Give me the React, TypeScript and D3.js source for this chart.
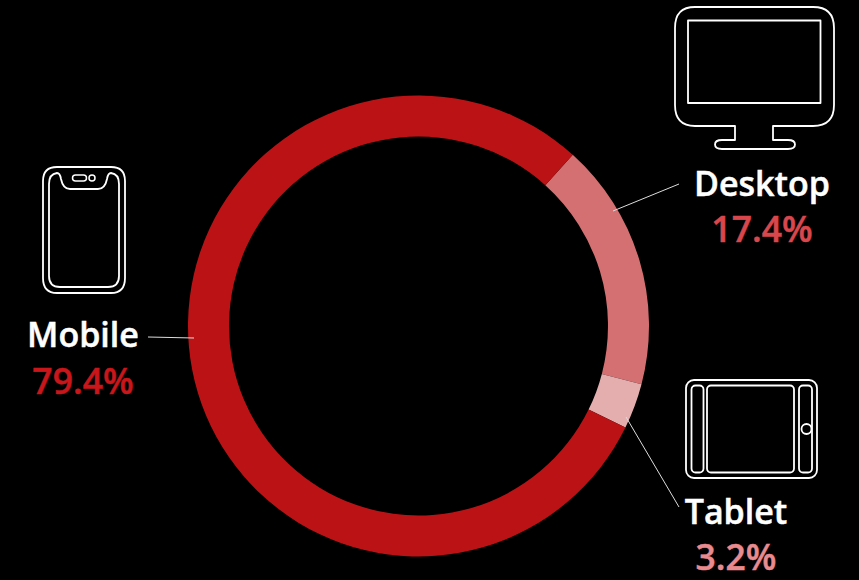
import React from "react";
import * as d3 from "d3";

const categories = ["Desktop", "Tablet", "Mobile"];
const shares = [17.4, 3.2, 79.4];
const sliceColors = ["#d57072", "#e4adae", "#bb1315"];
const valueColors = ["#d9474c", "#e98a8e", "#c8161a"];

const WIDTH = 859;
const HEIGHT = 580;
const CENTER = [418.5, 326];
const FONT = "'Open Sans', 'Noto Sans', sans-serif";

const pie = d3
  .pie<number>()
  .sort(null)
  .startAngle((42 * Math.PI) / 180)
  .endAngle((402 * Math.PI) / 180);
const arc = d3.arc<d3.PieArcDatum<number>>().innerRadius(189.5).outerRadius(230.5);

const labels = [
  { x: 762, y: 196, vy: 242 },
  { x: 736, y: 524, vy: 569.5 },
  { x: 83, y: 347, vy: 394 },
];

const Icon = ({ d, sw = 1.8 }: { d: string; sw?: number }) => (
  <path d={d} fill="none" stroke="#fff" strokeWidth={sw} strokeLinejoin="round" />
);

export default function App() {
  const slices = pie(shares);
  return (
    <svg
      width={WIDTH}
      height={HEIGHT}
      viewBox={`0 0 ${WIDTH} ${HEIGHT}`}
      style={{ position: "fixed", left: 0, top: 0, background: "#000" }}
    >
      <rect width={WIDTH} height={HEIGHT} fill="#000" />
      <g transform={`translate(${CENTER[0]},${CENTER[1]})`}>
        {slices.map((s, i) => (
          <path key={categories[i]} d={arc(s) ?? ""} fill={sliceColors[i]} />
        ))}
      </g>

      {/* leader lines */}
      <g stroke="#ddd" strokeWidth={1}>
        <line x1={613} y1={211} x2={679} y2={184} />
        <line x1={626} y1={417} x2={679} y2={507} />
        <line x1={148} y1={337} x2={194} y2={338} />
      </g>

      {/* monitor */}
      <Icon d="M695 7H813Q834 7 834 28V105Q834 126 813 126H773V140H788Q795 140 795 144.500Q795 149 788 149H722Q715 149 715 144.500Q715 140 722 140H735V126H695Q675 126 675 105V28Q675 7 695 7Z" />
      <Icon d="M688 20.500H820.500V103H688Z" />

      {/* phone */}
      <Icon d="M57 167H111Q125 167 125 181V278Q125 293 111 293H57Q43 293 43 278V181Q43 167 57 167Z" />
      <Icon d="M57 173Q49 174 49 184V276Q49 287 60 287H108Q119 287 119 276V184Q119 174 111 173Q108 173 107 179Q105 189 98 189H70Q63 189 61 179Q60 173 57 173Z" />
      <rect x={72.500} y={175} width={14} height={6} rx={3} fill="none" stroke="#fff" strokeWidth={1.500} />
      <circle cx={92} cy={178} r={3} fill="none" stroke="#fff" strokeWidth={1.500} />

      {/* tablet */}
      <rect x={686} y={380} width={131} height={98} rx={8} fill="none" stroke="#fff" strokeWidth={1.8} />
      <rect x={691.500} y={385.500} width={12} height={87} rx={4} fill="none" stroke="#fff" strokeWidth={1.8} />
      <rect x={707} y={385.500} width={87} height={87} rx={4} fill="none" stroke="#fff" strokeWidth={1.8} />
      <rect x={799} y={385.500} width={13} height={87} rx={4} fill="none" stroke="#fff" strokeWidth={1.8} />
      <circle cx={806.500} cy={429} r={5} fill="#000" stroke="#fff" strokeWidth={1.8} />

      {categories.map((name, i) => (
        <g key={name} textAnchor="middle" fontFamily={FONT} fontWeight={600}>
          <text x={labels[i].x} y={labels[i].y} fill="#fff" stroke="#fff" strokeWidth={0.5} fontSize={34}>
            {name}
          </text>
          <text
            x={labels[i].x}
            y={labels[i].vy}
            fill={valueColors[i]}
            stroke={valueColors[i]}
            strokeWidth={0.5}
            fontSize={35.5}
          >
            {shares[i]}%
          </text>
        </g>
      ))}
    </svg>
  );
}
